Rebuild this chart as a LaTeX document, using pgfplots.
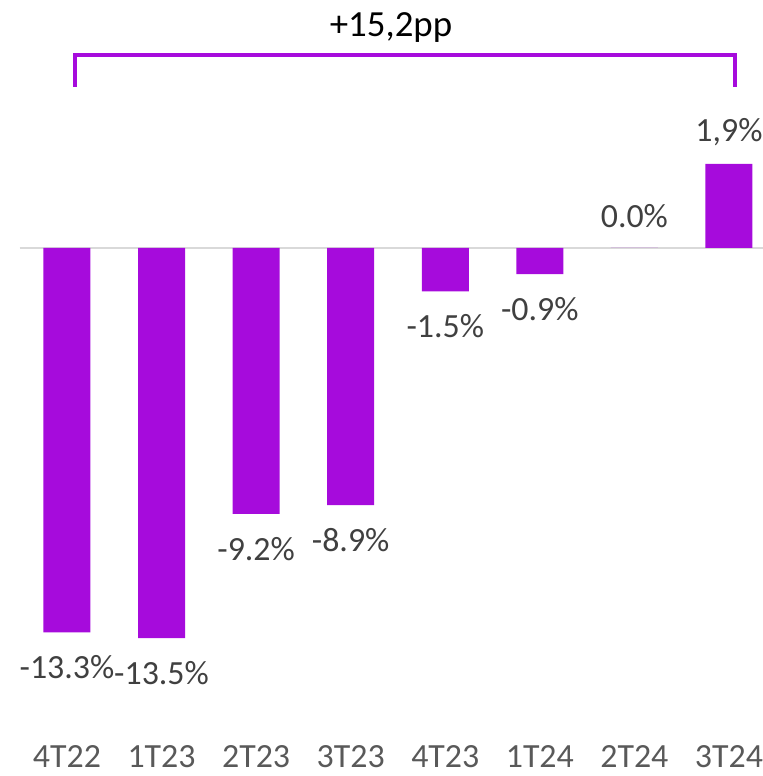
\documentclass[border=0pt]{standalone}
\usepackage{pgfplots}
\pgfplotsset{compat=1.18}
\usepackage{fontspec}
\setmainfont{Carlito}
\definecolor{barpurple}{HTML}{A60BDC}
\definecolor{lblgray}{HTML}{404040}
\definecolor{tickgray}{HTML}{595959}
\definecolor{zerogray}{HTML}{D9D9D9}
\begin{document}
\begin{tikzpicture}
\begin{axis}[
  at={(19.7bp,123.4bp)}, anchor=south west,
  scale only axis,
  width=756.56bp, height=505.75bp,
  xmin=-0.5, xmax=7.5, ymin=-14, ymax=3.5,
  clip=false,
  axis line style={draw=none},
  major tick length=0pt,
  ytick=\empty,
  xtick={0,1,2,3,4,5,6,7},
  xticklabels={4T22,1T23,2T23,3T23,4T23,1T24,2T24,3T24},
  xticklabel style={anchor=center, yshift=-104.4bp, font=\fontsize{34}{40}\selectfont, text=tickgray},
  ybar, bar width=47bp, bar shift=0pt,
  point meta=explicit symbolic,
  visualization depends on={y \as \rawy},
  nodes near coords,
  every node near coord/.append style={anchor=center, font=\fontsize{34}{40}\selectfont, text=lblgray,
     yshift={ifthenelse(\rawy<0,-35,32)}},
]
\draw[zerogray, line width=2bp] (axis cs:-0.5,0) -- (axis cs:7.37,0);
\addplot[fill=barpurple, draw=none] coordinates {
  (0,-13.3) [-13.3\%]
  (1,-13.5) [-13.5\%]
  (2,-9.2) [-9.2\%]
  (3,-8.9) [-8.9\%]
  (4,-1.5) [-1.5\%]
  (5,-0.9) [-0.9\%]
  (6,0) [0.0\%]
  (7,2.91) [1,9\%]
};
\end{axis}
\draw[barpurple, line width=3.5bp, line join=miter] (75bp,689bp) -- (75bp,721bp) -- (735bp,721bp) -- (735bp,689bp);
\node[font=\fontsize{37}{44}\selectfont, text=black, anchor=center] at (391bp,748bp) {+15,2pp};
\pgfresetboundingbox
\useasboundingbox (0,0) rectangle (763bp,776bp);
\end{tikzpicture}
\end{document}
